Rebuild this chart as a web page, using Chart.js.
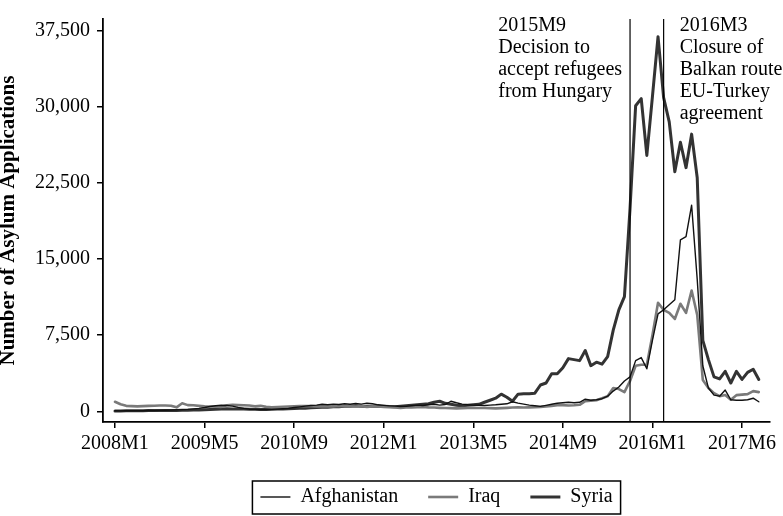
<!DOCTYPE html>
<html>
<head>
<meta charset="utf-8">
<script src="https://cdn.jsdelivr.net/npm/chart.js@4/dist/chart.umd.min.js"></script>
<style>
  html, body { margin: 0; padding: 0; background: #fff; }
</style>
</head>
<body>
<canvas id="chart" width="783" height="516"></canvas>
<script>
// monthly asylum applications, one value per month starting 2008M1
const afghanistan = [
  60, 50, 70, 60, 80, 70, 90, 80, 100, 110, 130, 150,
  180, 200, 250, 300, 380, 480, 560, 600, 580, 520, 400, 300,
  220, 200, 180, 190, 200, 230, 260, 300, 380, 450, 520, 580,
  620, 700, 650, 720, 680, 750, 700, 780, 720, 800, 760, 650,
  600, 550, 520, 480, 500, 560, 620, 580, 650, 700, 620, 680,
  1000, 850, 720, 650, 620, 600, 580, 620, 650, 700, 750, 950,
  820, 720, 620, 560, 500, 600, 700, 800, 850, 900, 850, 900,
  1200, 1100, 1150, 1250, 1500, 2000, 2400, 3000, 3400, 5000, 5300, 4200,
  7000, 9600, 10000, 10500, 11000, 16900, 17200, 20300, 13000, 4500, 2300, 1600,
  1500, 2100, 1150, 1100, 1100, 1150, 1300, 950
];
const iraq = [
  950, 700, 550, 520, 500, 520, 550, 560, 580, 580, 560, 400,
  800, 620, 600, 550, 500, 480, 470, 450, 600, 650, 620, 600,
  580, 500, 550, 450, 400, 420, 450, 480, 500, 520, 530, 520,
  500, 520, 480, 500, 550, 520, 500, 480, 520, 450, 500, 480,
  450, 420, 400, 350, 380, 400, 420, 450, 400, 380, 350, 330,
  320, 300, 320, 330, 350, 340, 330, 320, 300, 320, 350, 380,
  400, 380, 400, 420, 450, 500, 550, 600, 620, 580, 600, 650,
  1000, 1050, 1100, 1300, 1500, 2300, 2200, 1900, 3000, 4500, 4600, 4600,
  7500, 10700, 10000, 9700, 9100, 10600, 9700, 11900, 9500, 3100, 2300, 1800,
  1500, 1620, 1150, 1600, 1650, 1700, 2000, 1900
];
const syria = [
  50, 50, 60, 60, 70, 70, 80, 80, 90, 90, 100, 100,
  110, 120, 130, 150, 170, 200, 220, 250, 260, 250, 240, 230,
  220, 210, 200, 200, 220, 230, 250, 260, 280, 300, 320, 350,
  380, 400, 420, 450, 470, 500, 520, 550, 500, 480, 500, 520,
  500, 480, 450, 500, 550, 600, 650, 700, 750, 900, 1000, 800,
  700, 600, 550, 600, 650, 700, 900, 1100, 1300, 1700, 1400, 1000,
  1700, 1750, 1750, 1800, 2600, 2800, 3700, 3700, 4300, 5200, 5100, 5000,
  6000, 4500, 4850, 4650, 5400, 8000, 10000, 11300, 20000, 30100, 30800, 25200,
  31000, 36900, 30900, 28500, 23600, 26500, 24000, 27300, 23000, 7000, 5100, 3400,
  3200, 3950, 2800, 3950, 3150, 3850, 4150, 3150
];

const xTickIndex = [0, 16, 32, 48, 64, 80, 96, 112];
const xTickLabels = ['2008M1', '2009M5', '2010M9', '2012M1', '2013M5', '2014M9', '2016M1', '2017M6'];
const yTickValues = [0, 7500, 15000, 22500, 30000, 37500];

// policy events (month index) with their notes
const eventIndex = [92, 98];
const eventNotes = [
  ['2015M9', 'Decision to', 'accept refugees', 'from Hungary'],
  ['2016M3', 'Closure of', 'Balkan route', 'EU-Turkey', 'agreement']
];

const FONT = '"Liberation Serif", "Times New Roman", serif';

let toPoints = arr => arr.map((v, i) => ({x: i, y: v}));

const eventPlugin = {
  id: 'events',
  afterDatasetsDraw(chart) {
    const {ctx, chartArea, scales} = chart;
    ctx.save();
    ctx.strokeStyle = '#000';
    ctx.lineWidth = 1.2;
    ctx.fillStyle = '#000';
    ctx.font = '20px ' + FONT;
    ctx.textBaseline = 'alphabetic';
    eventIndex.forEach((idx, k) => {
      const x = scales.x.getPixelForValue(idx);
      ctx.beginPath();
      ctx.moveTo(x, chartArea.top);
      ctx.lineTo(x, chartArea.bottom);
      ctx.stroke();
      const lines = eventNotes[k];
      const w = Math.max(...lines.map(t => ctx.measureText(t).width));
      //first note sits left of its line, second one right
      const left = k === 0 ? x - 8 - w : x + 16;
      lines.forEach((t, i) => ctx.fillText(t, left, chartArea.top + 12 + i * 22));
    });
    ctx.restore();
  }
};

const legendBorder = {
  id: 'legendBorder',
  afterDraw(chart) {
    const boxes = chart.legend.legendHitBoxes;
    if (!boxes || !boxes.length) return;
    const x0 = Math.min(...boxes.map(b => b.left)) - 8;
    const x1 = Math.max(...boxes.map(b => b.left + b.width)) + 8;
    const cy = boxes[0].top + boxes[0].height / 2;
    const ctx = chart.ctx;
    ctx.save();
    ctx.strokeStyle = '#000';
    ctx.lineWidth = 1.5;
    ctx.strokeRect(x0, cy - 16, x1 - x0, 33);
    ctx.restore();
  }
};

new Chart(document.getElementById('chart'), {
  type: 'line',
  data: {
    datasets: [
      {label: 'Afghanistan', data: toPoints(afghanistan), borderColor: '#111', borderWidth: 1.4},
      {label: 'Iraq', data: toPoints(iraq), borderColor: '#7a7a7a', borderWidth: 2.6},
      {label: 'Syria', data: toPoints(syria), borderColor: '#333', borderWidth: 3}
    ]
  },
  options: {
    responsive: false,
    animation: false,
    devicePixelRatio: 1,
    layout: {padding: {top: 3, right: 13, left: 0, bottom: -1}},
    elements: {
      point: {radius: 0},
      line: {tension: 0, borderCapStyle: 'round', borderJoinStyle: 'round'}
    },
    plugins: {
      tooltip: {enabled: false},
      legend: {
        position: 'bottom',
        fullSize: false,
        labels: {
          font: {family: FONT, size: 20},
          color: '#000',
          usePointStyle: true,
          pointStyle: 'line',
          pointStyleWidth: 30,
          padding: 30
        }
      }
    },
    scales: {
      x: {
        type: 'linear',
        min: -2.14,
        max: 117,
        afterBuildTicks: s => { s.ticks = xTickIndex.map(v => ({value: v})); },
        afterFit: s => { s.height = 35; },
        ticks: {
          callback: (v, i) => xTickLabels[i],
          font: {family: FONT, size: 20},
          color: '#000',
          padding: 4,
          maxRotation: 0,
          autoSkip: false
        },
        grid: {drawOnChartArea: false, drawTicks: true, tickLength: 6, color: '#000', lineWidth: 1.5},
        border: {display: true, color: '#000', width: 1.8}
      },
      y: {
        type: 'linear',
        min: -1042,
        max: 38636,
        afterBuildTicks: s => { s.ticks = yTickValues.map(v => ({value: v})); },
        afterFit: s => { s.width = 103; },
        ticks: {
          callback: v => v.toLocaleString('en-US'),
          font: {family: FONT, size: 20},
          color: '#000',
          padding: 7
        },
        grid: {drawOnChartArea: false, drawTicks: true, tickLength: 6, color: '#000', lineWidth: 1.5},
        border: {display: true, color: '#000', width: 1.8},
        title: {
          display: true,
          text: 'Number of Asylum Applications',
          font: {family: FONT, size: 21, weight: 'bold', lineHeight: 0.8},
          color: '#000',
          padding: 0
        }
      }
    }
  },
  plugins: [eventPlugin, legendBorder]
});
</script>
</body>
</html>
